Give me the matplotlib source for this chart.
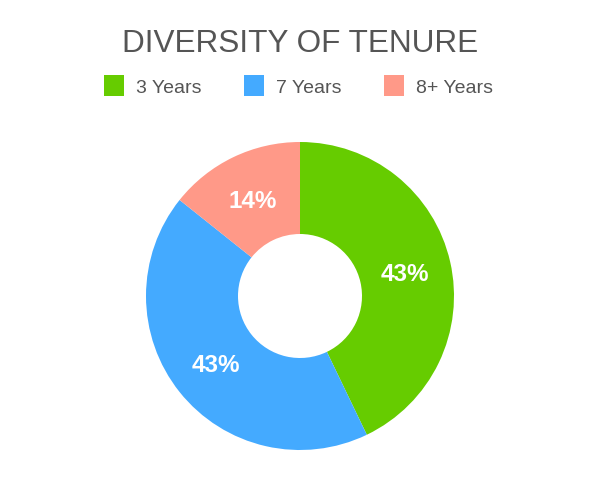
import matplotlib
matplotlib.use('Agg')
import matplotlib.pyplot as plt
from matplotlib.patches import Rectangle

categories = ['3 Years', '7 Years', '8+ Years']
values = [3, 3, 1]
colors = ['#66cc00', '#44aaff', '#ff9988']
title = 'DIVERSITY OF TENURE'

plt.rcParams['font.family'] = ['Liberation Sans', 'DejaVu Sans']

fig = plt.figure(figsize=(6, 5), dpi=100)
fig.patch.set_facecolor('white')
ax = fig.add_axes([0, 0, 1, 1])

# donut, drawn in pixel-like coords (origin bottom-left)
cx, cy, r_out, r_in = 300, 204, 154, 62
wedges, texts, autotexts = ax.pie(
    values, colors=colors, startangle=90, counterclock=False,
    center=(cx, cy), radius=r_out,
    wedgeprops=dict(width=r_out - r_in, linewidth=0),
    autopct='%1.0f%%', pctdistance=(r_out + r_in) / 2 / r_out,
    textprops=dict(color='white', fontsize=17.5, fontweight='bold'))
for t in autotexts:
    t.set_va('center_baseline')

ax.set_xlim(0, 600)
ax.set_ylim(0, 500)
ax.set_aspect('equal')
ax.axis('off')

ax.text(300, 500 - 52, title, ha='center', va='baseline', fontsize=22.7, color='#555555')

# legend row
legend_x = [104, 244, 384]
for x, lab, col in zip(legend_x, categories, colors):
    ax.add_patch(Rectangle((x, 500 - 96), 20, 21, facecolor=col, edgecolor='none'))
    ax.text(x + 32, 500 - 93.3, lab, ha='left', va='baseline', fontsize=14, color='#555555')

fig.savefig('out.png', dpi=100, facecolor='white')
